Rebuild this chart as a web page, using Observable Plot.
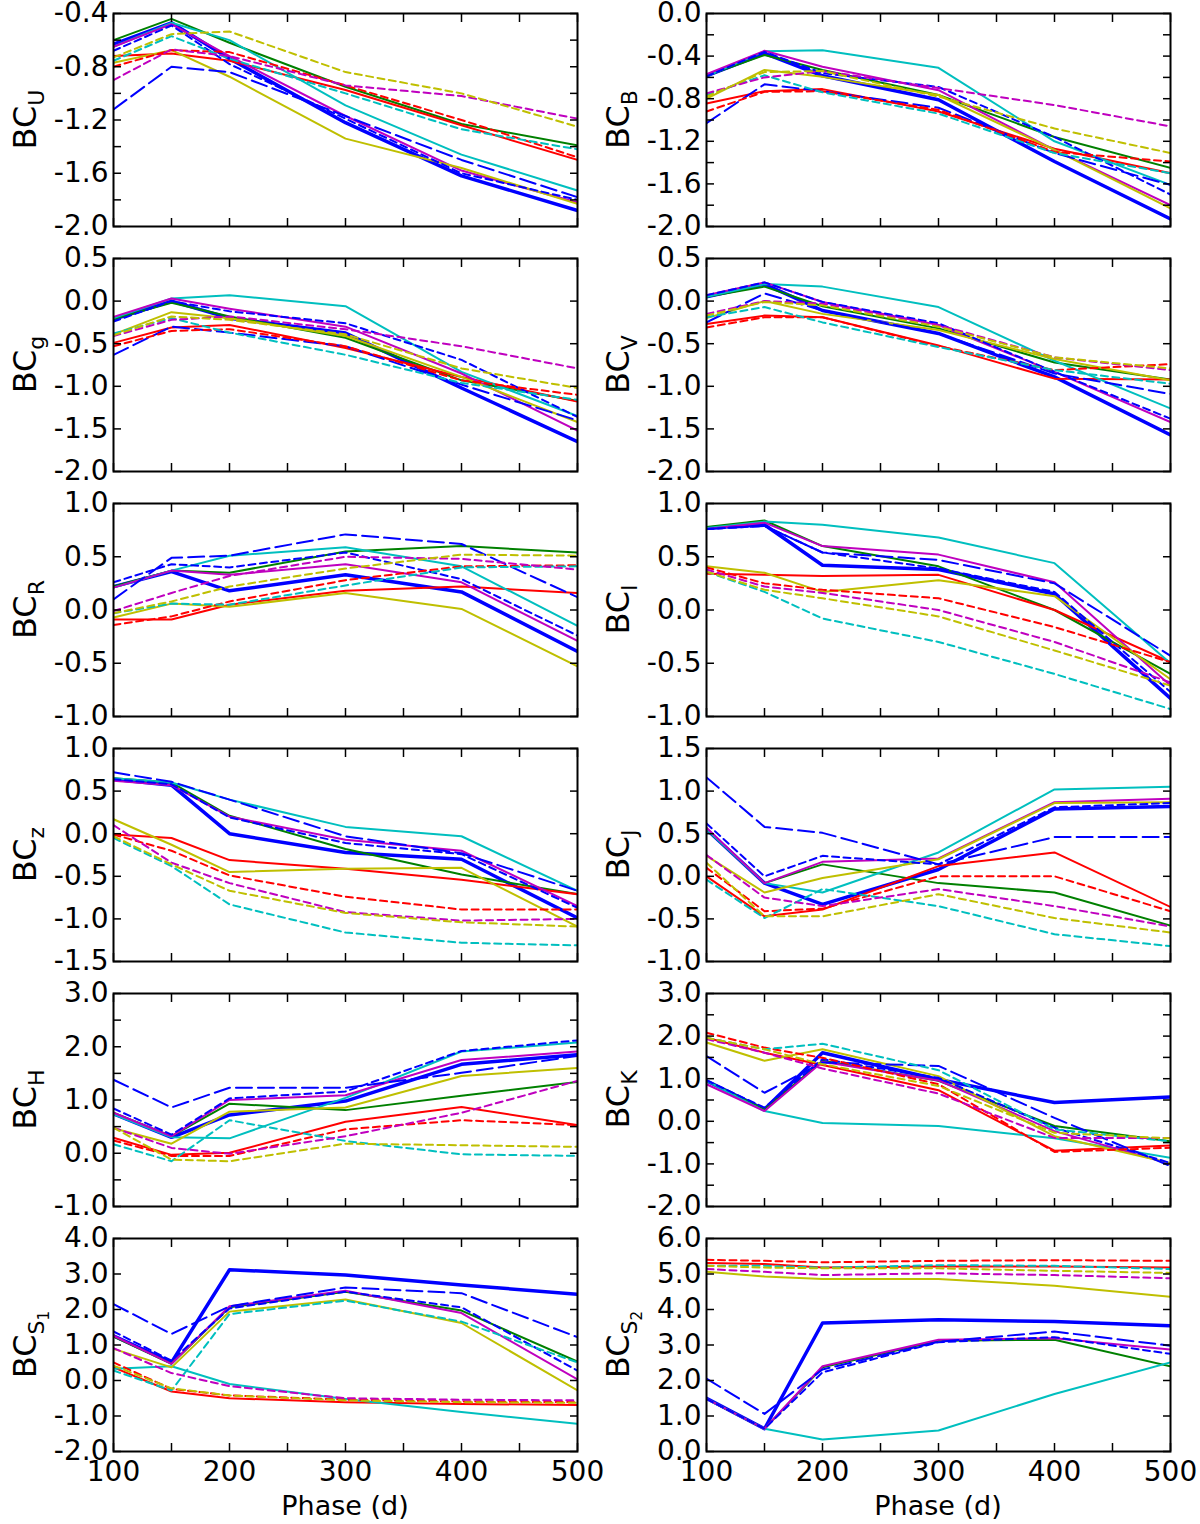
<!DOCTYPE html>
<html>
<head>
<meta charset="utf-8">
<script src="https://cdn.jsdelivr.net/npm/d3@7"></script>
<script src="https://cdn.jsdelivr.net/npm/@observablehq/plot@0.6"></script>
<style>
  body { margin: 0; background: #fff; }
  #fig { position: relative; width: 1200px; height: 1524px; font-family: "DejaVu Sans", sans-serif; }
  #fig svg { position: absolute; overflow: visible; }
</style>
</head>
<body>
<div id="fig"></div>
<script>
const phases = [100, 150, 200, 300, 400, 500]
const xTicks = [100, 150, 200, 250, 300, 350, 400, 450, 500]
const xLabels = [100, 200, 300, 400, 500]

// series order: blue thick, green, red, cyan, magenta, yellow, blue long dash, blue short dash,
// red dash, cyan dash, magenta dash, yellow dash
const seriesKeys = ["bThick", "g", "r", "c", "m", "y", "bLong", "bShort", "rDash", "cDash", "mDash", "yDash"]
const seriesColor = ["#0000ff", "#008000", "#ff0000", "#00bfbf", "#bf00bf", "#bfbf00",
  "#0000ff", "#0000ff", "#ff0000", "#00bfbf", "#bf00bf", "#bfbf00"]
const seriesWidth = [3.5, 2, 2, 2, 2, 2, 2, 2, 2, 2, 2, 2]
const seriesDash = [null, null, null, null, null, null, "16,6", "7,4.5", "7,4.5", "7,4.5", "7,4.5", "7,4.5"]

const bcU = [
  [-0.63, -0.47, -0.74, -1.22, -1.62, -1.88],
  [-0.6, -0.44, -0.62, -0.95, -1.23, -1.39],
  [-0.72, -0.7, -0.755, -0.975, -1.24, -1.5],
  [-0.65, -0.47, -0.6, -1.09, -1.46, -1.73],
  [-0.65, -0.48, -0.72, -1.17, -1.58, -1.82],
  [-0.77, -0.675, -0.875, -1.34, -1.56, -1.83],
  [-1.12, -0.8, -0.84, -1.17, -1.5, -1.78],
  [-0.68, -0.49, -0.78, -1.19, -1.6, -1.8],
  [-0.8, -0.675, -0.69, -0.94, -1.2, -1.48],
  [-0.755, -0.57, -0.74, -1.0, -1.27, -1.42],
  [-0.9, -0.67, -0.72, -0.94, -1.02, -1.19],
  [-0.73, -0.555, -0.535, -0.84, -1.0, -1.25]
]
const bcB = [
  [-0.585, -0.375, -0.585, -0.81, -1.39, -1.93],
  [-0.585, -0.39, -0.53, -0.765, -1.16, -1.45],
  [-0.845, -0.73, -0.71, -0.92, -1.27, -1.5],
  [-0.59, -0.355, -0.345, -0.51, -1.2, -1.61],
  [-0.57, -0.35, -0.5, -0.72, -1.28, -1.8],
  [-0.8, -0.53, -0.595, -0.765, -1.28, -1.83],
  [-1.03, -0.665, -0.73, -0.885, -1.31, -1.61],
  [-0.59, -0.36, -0.56, -0.69, -1.16, -1.7],
  [-0.92, -0.735, -0.73, -0.905, -1.3, -1.39],
  [-0.765, -0.58, -0.74, -0.94, -1.31, -1.5],
  [-0.75, -0.6, -0.54, -0.7, -0.86, -1.06],
  [-0.78, -0.55, -0.54, -0.78, -1.08, -1.31]
]
const bcg = [
  [-0.215, 0.0, -0.2, -0.375, -1.02, -1.65],
  [-0.21, -0.02, -0.18, -0.43, -0.93, -1.17],
  [-0.49, -0.31, -0.28, -0.55, -0.89, -1.18],
  [-0.2, 0.03, 0.07, -0.06, -0.83, -1.35],
  [-0.185, 0.03, -0.09, -0.3, -0.85, -1.52],
  [-0.39, -0.13, -0.2, -0.41, -0.89, -1.42],
  [-0.63, -0.3, -0.37, -0.53, -0.98, -1.4],
  [-0.24, 0.0, -0.12, -0.26, -0.69, -1.36],
  [-0.53, -0.35, -0.33, -0.53, -0.93, -1.1],
  [-0.38, -0.2, -0.37, -0.63, -0.96, -1.16],
  [-0.41, -0.22, -0.18, -0.33, -0.53, -0.79],
  [-0.4, -0.18, -0.22, -0.39, -0.79, -1.02]
]
const bcV = [
  [0.05, 0.2, -0.11, -0.38, -0.89, -1.57],
  [0.05, 0.17, -0.06, -0.32, -0.72, -0.92],
  [-0.27, -0.17, -0.19, -0.52, -0.91, -0.92],
  [0.05, 0.2, 0.17, -0.07, -0.7, -1.26],
  [0.07, 0.22, -0.01, -0.28, -0.83, -1.42],
  [-0.2, 0.0, -0.15, -0.34, -0.68, -0.93],
  [-0.25, 0.09, -0.11, -0.38, -0.85, -1.09],
  [0.07, 0.22, -0.01, -0.26, -0.83, -1.38],
  [-0.31, -0.19, -0.19, -0.53, -0.81, -0.74],
  [-0.19, -0.07, -0.25, -0.54, -0.81, -0.97],
  [-0.15, 0.0, -0.03, -0.28, -0.66, -0.81],
  [-0.17, -0.01, -0.05, -0.3, -0.66, -0.79]
]
const bcR = [
  [0.22, 0.36, 0.18, 0.33, 0.17, -0.39],
  [0.22, 0.37, 0.35, 0.55, 0.6, 0.54],
  [-0.09, -0.09, 0.05, 0.18, 0.22, 0.16],
  [0.21, 0.37, 0.51, 0.59, 0.41, -0.15],
  [0.21, 0.37, 0.33, 0.43, 0.26, -0.29],
  [-0.07, 0.06, 0.03, 0.16, 0.01, -0.53],
  [0.1, 0.49, 0.51, 0.71, 0.62, 0.12],
  [0.26, 0.43, 0.4, 0.54, 0.29, -0.24],
  [-0.14, -0.06, 0.08, 0.28, 0.41, 0.42],
  [-0.03, 0.06, 0.05, 0.23, 0.4, 0.41],
  [-0.01, 0.16, 0.32, 0.5, 0.48, 0.38],
  [-0.03, 0.08, 0.22, 0.39, 0.52, 0.51]
]
const bcI = [
  [0.77, 0.8, 0.42, 0.38, 0.15, -0.83],
  [0.78, 0.84, 0.6, 0.41, 0.0, -0.6],
  [0.34, 0.33, 0.32, 0.33, 0.0, -0.49],
  [0.77, 0.83, 0.8, 0.68, 0.44, -0.5],
  [0.76, 0.82, 0.6, 0.52, 0.26, -0.71],
  [0.41, 0.35, 0.17, 0.28, 0.13, -0.65],
  [0.76, 0.79, 0.54, 0.47, 0.25, -0.43],
  [0.76, 0.79, 0.54, 0.39, 0.17, -0.77],
  [0.4, 0.25, 0.19, 0.11, -0.16, -0.49],
  [0.36, 0.17, -0.08, -0.3, -0.6, -0.93],
  [0.38, 0.22, 0.16, 0.0, -0.3, -0.68],
  [0.36, 0.19, 0.11, -0.06, -0.38, -0.71]
]
const bcz = [
  [0.64, 0.57, 0.0, -0.22, -0.3, -0.99],
  [0.65, 0.6, 0.21, -0.18, -0.48, -0.71],
  [-0.01, -0.05, -0.31, -0.41, -0.54, -0.71],
  [0.65, 0.6, 0.4, 0.08, -0.03, -0.67],
  [0.62, 0.57, 0.2, -0.07, -0.2, -0.85],
  [0.17, -0.13, -0.45, -0.41, -0.4, -1.09],
  [0.72, 0.61, 0.4, -0.03, -0.23, -0.67],
  [0.64, 0.58, 0.19, -0.11, -0.24, -0.87],
  [-0.01, -0.2, -0.49, -0.74, -0.89, -0.89],
  [-0.05, -0.38, -0.83, -1.16, -1.28, -1.31],
  [0.1, -0.34, -0.58, -0.92, -1.02, -1.0],
  [-0.03, -0.36, -0.67, -0.93, -1.04, -1.09]
]
const bcJ = [
  [0.55, -0.08, -0.33, 0.08, 0.79, 0.82],
  [0.55, -0.08, 0.14, -0.08, -0.19, -0.58],
  [0.0, -0.47, -0.39, 0.12, 0.28, -0.36],
  [0.55, -0.08, -0.19, 0.28, 1.02, 1.05],
  [0.57, -0.08, 0.17, 0.21, 0.87, 0.91],
  [0.24, -0.19, -0.02, 0.2, 0.86, 0.87],
  [1.16, 0.58, 0.51, 0.14, 0.46, 0.46],
  [0.62, 0.0, 0.24, 0.14, 0.81, 0.86],
  [0.1, -0.41, -0.38, 0.0, 0.0, -0.41],
  [-0.04, -0.49, -0.15, -0.35, -0.68, -0.82],
  [0.25, -0.25, -0.35, -0.15, -0.35, -0.59],
  [0.16, -0.47, -0.47, -0.21, -0.49, -0.66]
]
const bcH = [
  [0.74, 0.3, 0.72, 0.98, 1.67, 1.85],
  [0.76, 0.32, 0.93, 0.81, 1.08, 1.34],
  [0.29, -0.03, 0.01, 0.59, 0.87, 0.53],
  [0.73, 0.3, 0.28, 1.04, 1.91, 2.08],
  [0.76, 0.32, 1.0, 1.09, 1.75, 1.91],
  [0.47, 0.18, 0.78, 0.86, 1.45, 1.6],
  [1.38, 0.86, 1.23, 1.23, 1.51, 1.83],
  [0.84, 0.35, 1.03, 1.16, 1.92, 2.12],
  [0.24, -0.05, -0.05, 0.45, 0.62, 0.53],
  [0.17, -0.15, 0.62, 0.23, -0.02, -0.05],
  [0.48, 0.1, -0.01, 0.32, 0.76, 1.36],
  [0.48, -0.12, -0.15, 0.18, 0.15, 0.12]
]
const bcK = [
  [0.95, 0.28, 1.61, 0.98, 0.44, 0.57],
  [0.95, 0.28, 1.42, 0.95, -0.11, -0.47],
  [1.96, 1.61, 1.32, 0.73, -0.69, -0.57],
  [0.95, 0.24, -0.04, -0.11, -0.4, -0.86],
  [0.87, 0.24, 1.4, 0.96, -0.23, -1.0],
  [1.85, 1.42, 1.69, 1.06, -0.35, -0.98],
  [1.53, 0.67, 1.38, 1.3, 0.08, -1.05],
  [0.96, 0.32, 1.46, 1.02, -0.15, -0.98],
  [2.08, 1.73, 1.49, 0.87, -0.72, -0.62],
  [1.96, 1.69, 1.82, 1.2, -0.19, -0.47],
  [1.93, 1.61, 1.24, 0.65, -0.39, -0.39],
  [1.96, 1.69, 1.34, 0.83, -0.27, -0.4]
]
const bcS1 = [
  [1.26, 0.51, 3.12, 2.97, 2.69, 2.43],
  [1.24, 0.47, 2.06, 2.5, 1.97, 0.53],
  [0.37, -0.31, -0.5, -0.61, -0.66, -0.69],
  [0.33, 0.4, -0.1, -0.52, -0.89, -1.22],
  [1.26, 0.47, 2.09, 2.53, 1.9, 0.03],
  [0.89, 0.37, 1.94, 2.28, 1.62, -0.28],
  [2.15, 1.31, 2.09, 2.62, 2.46, 1.22],
  [1.38, 0.56, 2.03, 2.5, 2.06, 0.28],
  [0.51, -0.24, -0.42, -0.54, -0.59, -0.61],
  [0.28, -0.28, 1.87, 2.25, 1.66, 0.51],
  [0.91, 0.21, -0.16, -0.5, -0.54, -0.56],
  [0.42, -0.22, -0.42, -0.56, -0.61, -0.63]
]
const bcS2 = [
  [1.5, 0.64, 3.62, 3.71, 3.66, 3.54],
  [1.48, 0.64, 2.37, 3.12, 3.15, 2.4],
  [5.31, 5.28, 5.18, 5.21, 5.21, 5.18],
  [1.48, 0.64, 0.34, 0.59, 1.62, 2.51],
  [1.48, 0.64, 2.4, 3.15, 3.19, 2.87],
  [5.06, 4.93, 4.86, 4.86, 4.67, 4.36],
  [2.05, 1.06, 2.31, 3.09, 3.38, 2.98],
  [1.48, 0.64, 2.23, 3.08, 3.22, 2.75],
  [5.4, 5.37, 5.33, 5.37, 5.39, 5.37],
  [5.23, 5.23, 5.18, 5.25, 5.23, 5.14],
  [5.14, 5.06, 4.97, 5.02, 4.97, 4.88],
  [5.23, 5.18, 5.16, 5.16, 5.09, 5.03]
]

// panels, row by row: left column then right column
const panelData = [bcU, bcB, bcg, bcV, bcR, bcI, bcz, bcJ, bcH, bcK, bcS1, bcS2]
const panelSub = [["U"], ["B"], ["g"], ["V"], ["R"], ["I"], ["z"], ["J"], ["H"], ["K"], ["S", "1"], ["S", "2"]]
const panelDomain = [[-2, -0.4], [-2, 0], [-2, 0.5], [-2, 0.5], [-1, 1], [-1, 1],
  [-1.5, 1], [-1, 1.5], [-1, 3], [-2, 3], [-2, 4], [0, 6]]
const panelTickStep = [0.2, 0.2, 0.5, 0.5, 0.5, 0.5, 0.5, 0.5, 0.5, 0.5, 1, 1]
const panelLabelStep = [0.4, 0.4, 0.5, 0.5, 0.5, 0.5, 0.5, 0.5, 1, 1, 1, 1]

const steps = (lo, hi, st) => d3.range(Math.round((hi - lo) / st) + 1).map(i => +(hi - i * st).toFixed(2))

const fig = document.getElementById("fig")
const frameW = 464, frameH = 213, mt = 20
const colLeft = [113, 706]
const rowTop = [13, 258, 503, 748, 993, 1238]

panelData.forEach((vals, p) => {
  const col = p % 2, row = Math.floor(p / 2)
  const bottom = row === 5
  const mb = bottom ? 80 : 12
  const ml = colLeft[col] - col * 600
  const rows = []
  vals.forEach((arr, s) => arr.forEach((v, i) => rows.push({s: seriesKeys[s], phase: phases[i], v})))
  const [lo, hi] = panelDomain[p]
  const yTicks = steps(lo, hi, panelTickStep[p])
  const yLabels = steps(lo, hi, panelLabelStep[p])

  const chart = Plot.plot({
    width: 600,
    height: mt + frameH + mb,
    marginLeft: ml,
    marginRight: 600 - ml - frameW,
    marginTop: mt,
    marginBottom: mb,
    x: {domain: [100, 500]},
    y: {domain: [lo, hi]},
    style: {fontFamily: "DejaVu Sans", fontSize: "28px", overflow: "visible", color: "black", background: "transparent"},
    marks: [
      ...seriesKeys.map((k, s) => Plot.line(rows.filter(d => d.s === k), {
        x: "phase", y: "v",
        stroke: seriesColor[s],
        strokeWidth: seriesWidth[s],
        strokeDasharray: seriesDash[s],
        clip: true
      })),
      Plot.axisY(yTicks, {anchor: "left", tickSize: -8, strokeWidth: 1.5, tickFormat: () => "", label: null}),
      Plot.axisY(yTicks, {anchor: "right", tickSize: -8, strokeWidth: 1.5, tickFormat: () => "", label: null}),
      Plot.axisY(yLabels, {anchor: "left", tickSize: 0, tickPadding: 5, tickFormat: d => d.toFixed(1), label: null}),
      Plot.axisX(xTicks, {anchor: "bottom", tickSize: -8, strokeWidth: 1.5, tickFormat: () => "", label: null}),
      Plot.axisX(xTicks, {anchor: "top", tickSize: -8, strokeWidth: 1.5, tickFormat: () => "", label: null}),
      bottom ? Plot.axisX(xLabels, {anchor: "bottom", tickSize: 0, tickPadding: 10, tickFormat: d => String(d), label: null}) : null,
      Plot.frame({stroke: "black", strokeWidth: 2})
    ]
  })
  chart.style.left = (col * 600) + "px"
  chart.style.top = (rowTop[row] - mt) + "px"

  // y label BC with subscript
  const svg = d3.select(chart)
  const sub = panelSub[p]
  const t = svg.append("text")
    .attr("transform", `translate(${ml - 77},${mt + frameH / 2}) rotate(-90)`)
    .attr("text-anchor", "middle")
    .attr("font-family", "DejaVu Sans")
    .attr("font-size", 32)
    .attr("fill", "black")
  t.append("tspan").text("BC")
  t.append("tspan").attr("dy", 8).attr("font-size", 22).text(sub[0])
  if (sub[1]) t.append("tspan").attr("dy", 5).attr("font-size", 15).text(sub[1])

  if (bottom) {
    svg.append("text")
      .attr("x", ml + frameW / 2)
      .attr("y", mt + frameH + 64)
      .attr("text-anchor", "middle")
      .attr("font-family", "DejaVu Sans")
      .attr("font-size", 27)
      .attr("fill", "black")
      .text("Phase (d)")
  }
  fig.appendChild(chart)
})
</script>
</body>
</html>
